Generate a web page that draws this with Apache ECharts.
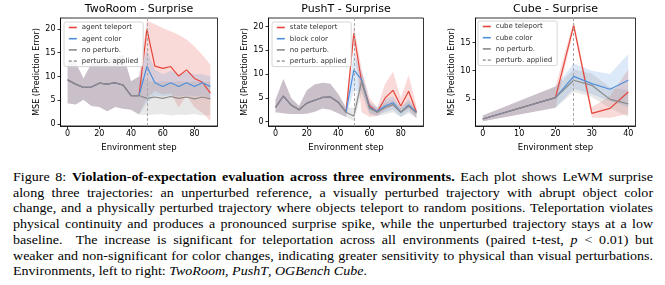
<!DOCTYPE html>
<html>
<head>
<meta charset="utf-8">
<script src="https://cdn.jsdelivr.net/npm/echarts@6.0.0/dist/echarts.min.js"></script>
<style>
  body { margin: 0; background: #fff; }
  #chart { position: absolute; left: 0; top: 0; width: 665px; height: 170px; }
  #caption {
    position: absolute; left: 13px; top: 170px; width: 584px;
    transform: scaleX(1.096); transform-origin: 0 0;
    font-family: "Liberation Serif", "Times New Roman", serif;
    font-size: 12.8px; line-height: 15.7px; color: #000;
  }
  #caption .ln { text-align: justify; text-align-last: justify; white-space: nowrap; }
  #caption .last { text-align: left; text-align-last: left; white-space: nowrap; }
</style>
</head>
<body>
<div id="chart"></div>
<div id="caption">
  <div class="ln">Figure 8: <b>Violation-of-expectation evaluation across three environments.</b> Each plot shows LeWM surprise</div>
  <div class="ln">along three trajectories: an unperturbed reference, a visually perturbed trajectory with abrupt object color</div>
  <div class="ln">change, and a physically perturbed trajectory where objects teleport to random positions. Teleportation violates</div>
  <div class="ln">physical continuity and produces a pronounced surprise spike, while the unperturbed trajectory stays at a low</div>
  <div class="ln">baseline.&nbsp; The increase is significant for teleportation across all environments (paired t-test, <i>p</i> &lt; 0.01) but</div>
  <div class="ln">weaker and non-significant for color changes, indicating greater sensitivity to physical than visual perturbations.</div>
  <div class="last">Environments, left to right: <i>TwoRoom</i>, <i>PushT</i>, <i>OGBench Cube</i>.</div>
</div>
<script>
// ---- data ----
const titles = ["TwoRoom - Surprise", "PushT - Surprise", "Cube - Surprise"];
const twoRoomNames = ["agent teleport", "agent color", "no perturb.", "perturb. applied"];
const pushTNames = ["state teleport", "block color", "no perturb.", "perturb. applied"];
const cubeNames = ["cube teleport", "cube color", "no perturb.", "perturb. applied"];
const perturbSteps = [50, 50, 25];

const twoRoomSteps = [0, 5, 10, 15, 20, 25, 30, 35, 40, 45, 50, 55, 60, 65, 70, 75, 80, 85, 90];
const twoRoomTeleport   = [9.3, 8.4, 7.7, 7.8, 8.6, 8.4, 8.7, 8.2, 6.0, 6.0, 19.9, 12.2, 11.7, 12.1, 10.1, 11.4, 9.6, 8.8, 6.5];
const twoRoomTeleportLo = [4.4, 4.1, 5.1, 3.8, 3.6, 2.7, 3.6, 3.2, 3.0, 2.0, 5.5, 7.0, 6.2, 6.5, 3.5, 6.0, 3.5, 2.4, 0.6];
const twoRoomTeleportHi = [13.5, 13.0, 9.6, 12.8, 13.0, 13.6, 14.0, 14.5, 9.0, 10.0, 21.8, 21.0, 20.2, 19.5, 18.8, 17.8, 16.3, 14.5, 12.5];
const twoRoomColor      = [9.3, 8.4, 7.7, 7.8, 8.6, 8.4, 8.7, 8.2, 6.0, 6.0, 12.1, 8.7, 7.9, 8.7, 7.9, 8.7, 7.9, 8.7, 7.9];
const twoRoomColorLo    = [4.4, 4.1, 5.1, 3.8, 3.6, 2.7, 3.6, 3.2, 3.0, 2.0, 4.5, 6.0, 5.8, 6.0, 5.8, 6.0, 5.8, 6.0, 5.5];
const twoRoomColorHi    = [13.5, 13.0, 9.6, 12.8, 13.0, 13.6, 14.0, 14.5, 9.0, 10.0, 15.5, 11.5, 10.5, 11.2, 10.5, 11.0, 10.5, 10.5, 10.0];
const twoRoomNone       = [9.3, 8.4, 7.7, 7.8, 8.6, 8.4, 8.7, 8.2, 6.0, 6.0, 5.4, 5.7, 5.4, 5.8, 5.4, 5.7, 5.3, 5.7, 5.3];
const twoRoomNoneLo     = [4.4, 4.1, 5.1, 3.8, 3.6, 2.7, 3.6, 3.2, 3.0, 2.0, 1.9, 2.0, 2.1, 1.8, 2.0, 1.9, 2.1, 1.8, 1.9];
const twoRoomNoneHi     = [13.5, 13.0, 9.6, 12.8, 13.0, 13.6, 14.0, 14.5, 9.0, 10.0, 9.2, 8.8, 9.0, 8.8, 9.0, 8.8, 9.0, 8.8, 8.8];

const pushTSteps = [0, 5, 10, 15, 20, 25, 30, 35, 40, 45, 50, 55, 60, 65, 70, 75, 80, 85, 90];
const pushTTeleport   = [3.0, 5.4, 3.5, 2.5, 3.9, 4.5, 5.1, 5.2, 4.1, 2.0, 18.6, 8.3, 3.4, 2.0, 5.0, 6.6, 3.3, 6.4, 2.0];
const pushTTeleportLo = [2.0, 1.8, 1.6, 1.6, 1.7, 2.1, 2.8, 2.5, 1.8, 1.0, 16.8, 2.0, 1.0, 1.2, 2.5, 3.2, 1.8, 2.8, 0.6];
const pushTTeleportHi = [4.6, 9.0, 5.0, 3.3, 6.6, 7.8, 8.2, 8.0, 5.8, 3.0, 20.3, 11.0, 5.0, 3.0, 8.0, 10.5, 5.0, 9.8, 3.2];
const pushTColor      = [3.0, 5.4, 3.5, 2.5, 3.9, 4.5, 5.1, 5.2, 4.1, 2.0, 10.9, 8.8, 3.0, 2.2, 3.3, 4.0, 2.0, 3.5, 2.0];
const pushTColorLo    = [2.0, 1.8, 1.6, 1.6, 1.7, 2.1, 2.8, 2.5, 1.8, 1.0, 6.5, 6.5, 1.8, 1.3, 2.0, 2.5, 1.0, 2.2, 0.9];
const pushTColorHi    = [4.6, 9.0, 5.0, 3.3, 6.6, 7.8, 8.2, 8.0, 5.8, 3.0, 14.5, 10.5, 4.2, 3.0, 4.8, 5.3, 3.0, 4.8, 2.8];
const pushTNone       = [3.0, 5.4, 3.5, 2.5, 3.9, 4.5, 5.1, 5.2, 4.1, 2.0, 1.2, 8.6, 2.8, 2.0, 3.0, 3.6, 2.0, 3.3, 1.8];
const pushTNoneLo     = [2.0, 1.8, 1.6, 1.6, 1.7, 2.1, 2.8, 2.5, 1.8, 1.0, 0.2, 6.0, 1.5, 1.2, 1.5, 2.0, 1.0, 1.8, 0.8];
const pushTNoneHi     = [4.6, 9.0, 5.0, 3.3, 6.6, 7.8, 8.2, 8.0, 5.8, 3.0, 3.0, 10.5, 3.8, 2.8, 4.0, 4.5, 3.0, 4.3, 2.5];

const cubeSteps = [0, 20, 25, 30, 35, 40];
const cubeTeleport   = [1.4, 5.2, 18.1, 2.4, 3.3, 6.2];
const cubeTeleportLo = [1.0, 3.4, 17.3, 1.6, 1.6, 2.3];
const cubeTeleportHi = [2.0, 7.2, 18.9, 3.5, 5.5, 10.2];
const cubeColor      = [1.4, 5.2, 9.0, 7.7, 6.7, 8.3];
const cubeColorLo    = [1.0, 3.4, 6.8, 5.8, 4.6, 3.5];
const cubeColorHi    = [2.0, 7.2, 11.3, 10.0, 9.4, 13.0];
const cubeNone       = [1.4, 5.2, 8.3, 7.4, 4.9, 4.1];
const cubeNoneLo     = [1.0, 3.4, 6.2, 5.3, 3.3, 1.8];
const cubeNoneHi     = [2.0, 7.2, 10.2, 9.5, 7.0, 6.5];

// axis limits and ticks
const twoRoomXRange = [-4.5, 94.5], twoRoomYRange = [-0.4, 22.3];
const pushTXRange = [-4.5, 94.5], pushTYRange = [-0.9, 21.8];
const cubeXRange = [-2, 42], cubeYRange = [0.15, 19.4];
const twoRoomXTicks = [0, 20, 40, 60, 80], twoRoomYTicks = [0, 5, 10, 15, 20];
const pushTXTicks = [0, 20, 40, 60, 80], pushTYTicks = [0, 5, 10, 15, 20];
const cubeXTicks = [0, 10, 20, 30, 40], cubeYTicks = [5, 10, 15];

// ---- layout ----
const panels = [
  { title: titles[0], names: twoRoomNames, steps: twoRoomSteps, xr: twoRoomXRange, yr: twoRoomYRange,
    xt: twoRoomXTicks, yt: twoRoomYTicks, perturb: perturbSteps[0],
    lines: [[twoRoomTeleport, twoRoomTeleportLo, twoRoomTeleportHi], [twoRoomColor, twoRoomColorLo, twoRoomColorHi], [twoRoomNone, twoRoomNoneLo, twoRoomNoneHi]],
    grid: { left: 60.5, top: 18, width: 157, height: 108 }, legend: { left: 64, top: 22 }, nameGap: 16 },
  { title: titles[1], names: pushTNames, steps: pushTSteps, xr: pushTXRange, yr: pushTYRange,
    xt: pushTXTicks, yt: pushTYTicks, perturb: perturbSteps[1],
    lines: [[pushTTeleport, pushTTeleportLo, pushTTeleportHi], [pushTColor, pushTColorLo, pushTColorHi], [pushTNone, pushTNoneLo, pushTNoneHi]],
    grid: { left: 268.5, top: 18, width: 155, height: 108 }, legend: { left: 272, top: 22 }, nameGap: 17 },
  { title: titles[2], names: cubeNames, steps: cubeSteps, xr: cubeXRange, yr: cubeYRange,
    xt: cubeXTicks, yt: cubeYTicks, perturb: perturbSteps[2],
    lines: [[cubeTeleport, cubeTeleportLo, cubeTeleportHi], [cubeColor, cubeColorLo, cubeColorHi], [cubeNone, cubeNoneLo, cubeNoneHi]],
    grid: { left: 475.5, top: 18, width: 160, height: 108 }, legend: { left: 478, top: 21 }, nameGap: 17 },
];

const lineColors = ["#e6453c", "#4f8fda", "#8a8a8a"];
const bandColors = ["rgba(230,69,60,0.2)", "rgba(79,143,218,0.2)", "rgba(138,138,138,0.2)"];
const dashColor = "#a8a8a8";

const chart = echarts.init(document.getElementById("chart"));

const grid = [], xAxis = [], yAxis = [], title = [], legend = [], series = [];

// shaded band between lo and hi, drawn as one polygon through the axes
function band(k, steps, lo, hi, color) {
  return {
    type: "custom", xAxisIndex: k, yAxisIndex: k, silent: true, z: 1,
    data: steps.map((s, i) => [s, lo[i], hi[i]]),
    encode: { x: 0, y: [1, 2] },
    renderItem(params, api) {
      if (params.dataIndexInside !== 0) return null;
      const n = params.dataInsideLength;
      const top = [], bot = [];
      for (let j = 0; j < n; j++) {
        top.push(api.coord([api.value(0, j), api.value(2, j)]));
        bot.unshift(api.coord([api.value(0, j), api.value(1, j)]));
      }
      return { type: "polygon", shape: { points: top.concat(bot) }, style: { fill: color } };
    },
  };
}

panels.forEach((p, k) => {
  grid.push(Object.assign({ show: true, borderColor: "#000", borderWidth: 0.8, backgroundColor: "transparent" }, p.grid));
  title.push({
    text: p.title, left: p.grid.left + p.grid.width / 2, top: 4, textAlign: "center", padding: 0,
    textStyle: { fontSize: 11, fontWeight: "normal", color: "#000", fontFamily: "DejaVu Sans" },
  });
  const axisCommon = {
    gridIndex: k, type: "value", splitLine: { show: false },
    axisLine: { show: true, onZero: false, lineStyle: { color: "#000", width: 0.8 } },
    nameTextStyle: { fontSize: 8.5, color: "#000" },
  };
  xAxis.push(Object.assign({}, axisCommon, {
    min: p.xr[0], max: p.xr[1],
    axisTick: { show: true, length: 3, customValues: p.xt, lineStyle: { color: "#000", width: 0.8 } },
    axisLabel: { customValues: p.xt, fontSize: 8, color: "#000", margin: 4 },
    name: "Environment step", nameLocation: "middle", nameGap: 13,
  }));
  yAxis.push(Object.assign({}, axisCommon, {
    min: p.yr[0], max: p.yr[1],
    axisTick: { show: true, length: 3, customValues: p.yt, lineStyle: { color: "#000", width: 0.8 } },
    axisLabel: { customValues: p.yt, fontSize: 8, color: "#000", margin: 5 },
    name: "MSE (Prediction Error)", nameLocation: "middle", nameGap: p.nameGap,
    nameTextStyle: { fontSize: 8, color: "#000" },
  }));
  legend.push({
    left: p.legend.left, top: p.legend.top, orient: "vertical",
    data: p.names, itemWidth: 8, itemHeight: 7, itemGap: 4.2,
    padding: [2, 5, 2, 4], backgroundColor: "rgba(255,255,255,0.85)",
    borderColor: "#cccccc", borderWidth: 0.8, borderRadius: 2,
    itemStyle: { opacity: 0 },
    lineStyle: { width: 1.6 },
    textStyle: { fontSize: 7, color: "#333", fontFamily: "DejaVu Sans" },
    selectedMode: false,
  });

  p.lines.forEach((l, i) => series.push(band(k, p.steps, l[1], l[2], bandColors[i])));
  p.lines.forEach((l, i) => series.push({
    type: "line", name: p.names[i], xAxisIndex: k, yAxisIndex: k, z: 2,
    data: p.steps.map((s, j) => [s, l[0][j]]),
    symbol: "none", color: lineColors[i],
    lineStyle: { color: lineColors[i], width: 1.2 },
  }));
  series.push({
    type: "line", name: p.names[3], xAxisIndex: k, yAxisIndex: k, z: 3,
    data: [], symbol: "none", color: dashColor,
    lineStyle: { color: dashColor, width: 1, type: [3, 2] },
    markLine: {
      silent: true, symbol: ["none", "none"], label: { show: false },
      lineStyle: { color: dashColor, width: 1, type: [3, 2] },
      data: [{ xAxis: p.perturb }],
    },
  });
});

chart.setOption({
  animation: false,
  textStyle: { fontFamily: "DejaVu Sans" },
  title, grid, xAxis, yAxis, legend, series,
});
</script>
</body>
</html>
